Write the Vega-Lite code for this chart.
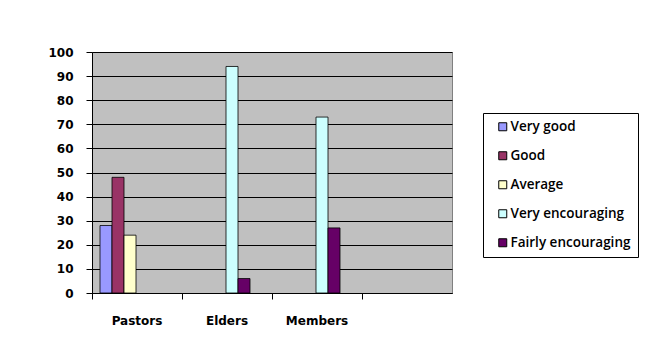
{
  "$schema": "https://vega.github.io/schema/vega-lite/v6.json",
  "width": 360,
  "height": 241,
  "autosize": {"type": "none"},
  "padding": {"left": 92, "top": 52, "right": 202, "bottom": 54},
  "background": "white",
  "data": {"values": [
    {"group": "Pastors", "series": "Very good", "value": 28},
    {"group": "Pastors", "series": "Good", "value": 48},
    {"group": "Pastors", "series": "Average", "value": 24},
    {"group": "Elders", "series": "Very encouraging", "value": 94},
    {"group": "Elders", "series": "Fairly encouraging", "value": 6},
    {"group": "Members", "series": "Very encouraging", "value": 73},
    {"group": "Members", "series": "Fairly encouraging", "value": 27}
  ]},
  "mark": {"type": "bar", "stroke": "#000000", "strokeWidth": 0.8},
  "encoding": {
    "x": {
      "field": "group", "type": "nominal", "title": null,
      "scale": {"domain": ["Pastors", "Elders", "Members", " "], "paddingInner": 0, "paddingOuter": 0},
      "axis": {"labelAngle": 0, "labelFont": "DejaVu Sans", "labelFontWeight": "bold", "labelFontSize": 12, "labelColor": "#000", "labelPadding": 16, "domainColor": "#000", "tickColor": "#000", "tickSize": 6, "grid": false, "bandPosition": 0}
    },
    "xOffset": {
      "field": "series", "type": "nominal",
      "scale": {"domain": ["Very good", "Good", "Average", "Very encouraging", "Fairly encouraging"], "range": [8, 68], "paddingInner": 0, "paddingOuter": 0}
    },
    "y": {
      "field": "value", "type": "quantitative", "title": null,
      "scale": {"domain": [0, 100]},
      "axis": {"values": [0, 10, 20, 30, 40, 50, 60, 70, 80, 90, 100], "labelFont": "DejaVu Sans", "labelFontWeight": "bold", "labelFontSize": 12, "labelColor": "#000", "labelPadding": 13, "domainColor": "#000", "tickColor": "#000", "tickSize": 6, "grid": true, "gridColor": "#000000", "gridWidth": 1}
    },
    "color": {
      "field": "series", "type": "nominal", "title": null,
      "scale": {"domain": ["Very good", "Good", "Average", "Very encouraging", "Fairly encouraging"], "range": ["#9999FF", "#993366", "#FFFFCC", "#CCFFFF", "#660066"]},
      "legend": {"orient": "none", "legendX": 391, "legendY": 61, "symbolType": "square", "symbolSize": 64, "symbolStrokeColor": "#000", "symbolStrokeWidth": 1, "symbolOffset": 6, "labelFont": "Open Sans", "labelFontSize": 13.5, "labelFontWeight": 600, "labelColor": "#000", "labelOffset": 1, "labelLimit": 300, "rowPadding": 14, "padding": 7, "strokeColor": "#000", "fillColor": "#fff", "symbolOpacity": 1}
    }
  },
  "config": {
    "view": {"fill": "#C0C0C0", "stroke": "#808080", "strokeWidth": 1}
  }
}
